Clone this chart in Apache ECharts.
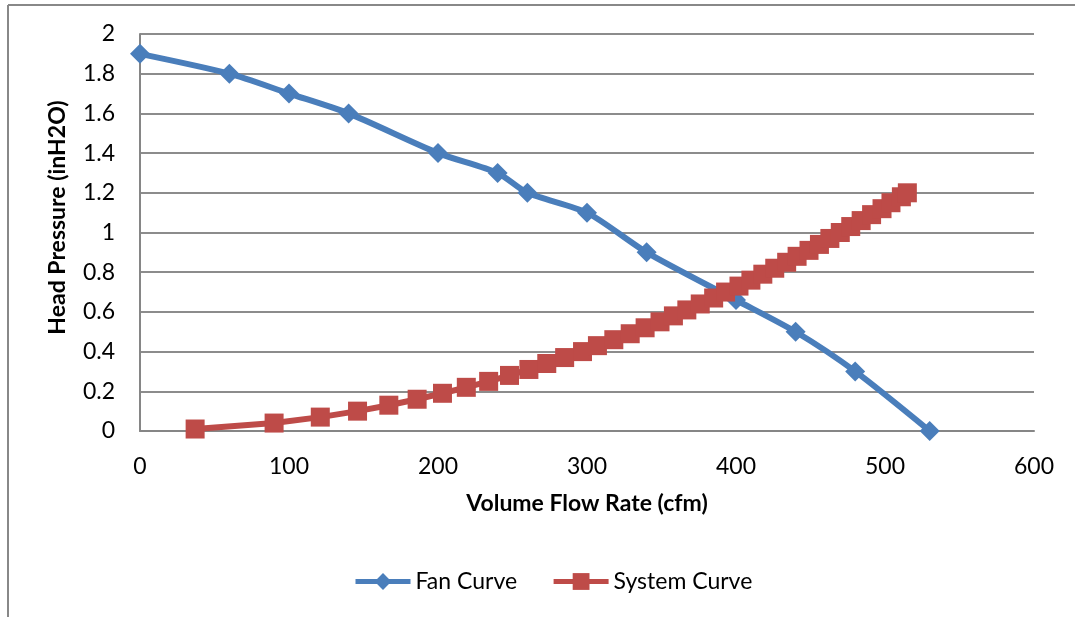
<!DOCTYPE html>
<html>
<head>
<meta charset="utf-8">
<script src="https://cdn.jsdelivr.net/npm/echarts@6/dist/echarts.min.js"></script>
<style>
html,body{margin:0;padding:0;background:#fff;}
#chart{width:1075px;height:617px;}
</style>
</head>
<body>
<div id="chart"></div>
<script>
const xTicks = [0, 100, 200, 300, 400, 500, 600];
const yTicks = [0, 0.2, 0.4, 0.6, 0.8, 1, 1.2, 1.4, 1.6, 1.8, 2];

const fanFlow = [0, 60, 100, 140, 200, 240, 260, 300, 340, 400, 440, 480, 530];
const fanPressure = [1.9, 1.8, 1.7, 1.6, 1.4, 1.3, 1.2, 1.1, 0.9, 0.66, 0.5, 0.3, 0];

const sysFlow = [37, 90, 121, 146, 167, 186, 203, 219, 234, 248, 261, 273, 285, 297, 307, 318, 329, 339,
  349, 358, 367, 376, 385, 393, 402, 410, 418, 426, 434, 441, 449, 456, 463, 470, 477, 484, 491, 498, 504, 511, 515];
const sysPressure = [0.01, 0.04, 0.07, 0.10, 0.13, 0.16, 0.19, 0.22, 0.25, 0.28, 0.31, 0.34, 0.37, 0.40, 0.43, 0.46, 0.49, 0.52,
  0.55, 0.58, 0.61, 0.64, 0.67, 0.70, 0.73, 0.76, 0.79, 0.82, 0.85, 0.88, 0.91, 0.94, 0.97, 1.00, 1.03, 1.06, 1.09, 1.12, 1.15, 1.18, 1.20];

const fanData = fanFlow.map((x, i) => [x, fanPressure[i]]);
const sysData = sysFlow.map((x, i) => [x, sysPressure[i]]);

const FONT = 'Lato';
const FS = 23;
const chart = echarts.init(document.getElementById('chart'));
chart.setOption({
  animation: false,
  backgroundColor: '#fff',
  textStyle: { fontFamily: FONT },
  graphic: [
    { type: 'line', shape: { x1: 8, y1: 5, x2: 1075, y2: 5 }, style: { stroke: '#888', lineWidth: 2 } },
    { type: 'line', shape: { x1: 8, y1: 5, x2: 8, y2: 617 }, style: { stroke: '#888', lineWidth: 2 } }
  ],
  grid: { left: 140, right: 41, top: 34, bottom: 186, containLabel: false },
  legend: {
    left: 348, top: 565,
    itemWidth: 55, itemHeight: 21, itemGap: 34,
    lineStyle: { width: 5 },
    textStyle: { fontFamily: FONT, fontSize: FS, color: '#000' },
    data: ['Fan Curve', 'System Curve']
  },
  xAxis: {
    type: 'value', min: xTicks[0], max: xTicks[xTicks.length - 1], interval: 100,
    name: 'Volume Flow Rate (cfm)', nameLocation: 'middle', nameGap: 61,
    nameTextStyle: { fontFamily: FONT, fontSize: FS, fontWeight: 'bold', color: '#000' },
    axisLine: { lineStyle: { color: '#868686', width: 2 } },
    axisTick: { show: false },
    axisLabel: { margin: 24, fontFamily: FONT, fontSize: FS, color: '#000' },
    splitLine: { show: false }
  },
  yAxis: {
    type: 'value', min: yTicks[0], max: yTicks[yTicks.length - 1], interval: 0.2,
    name: 'Head Pressure (inH2O)', nameLocation: 'middle', nameGap: 71,
    nameTextStyle: { fontFamily: FONT, fontSize: FS, fontWeight: 'bold', color: '#000', padding: [0, 0, 0, 30] },
    axisLine: { show: true, lineStyle: { color: '#868686', width: 2 } },
    axisTick: { show: false },
    axisLabel: { margin: 25, fontFamily: FONT, fontSize: FS, color: '#000' },
    splitLine: { show: true, lineStyle: { color: '#8c8c8c', width: 2 } }
  },
  series: [
    {
      name: 'Fan Curve', type: 'line', data: fanData,
      smooth: 0.25,
      symbol: 'diamond', symbolSize: 20,
      lineStyle: { color: '#4A7EBB', width: 6 },
      itemStyle: { color: '#4A7EBB' },
      z: 3
    },
    {
      name: 'System Curve', type: 'line', data: sysData,
      symbol: 'rect', symbolSize: 19,
      lineStyle: { color: '#BE4B48', width: 6 },
      itemStyle: { color: '#BE4B48' },
      z: 4
    }
  ]
});
</script>
</body>
</html>
